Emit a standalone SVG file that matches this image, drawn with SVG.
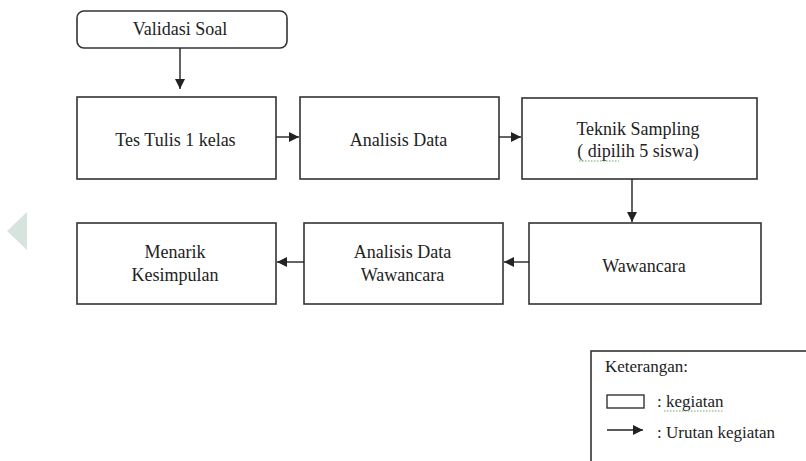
<svg xmlns="http://www.w3.org/2000/svg" width="806" height="461" viewBox="0 0 806 461">
<defs>
<style>
.box{fill:#fff;stroke:#333;stroke-width:1.6}
text{font-family:'Liberation Serif','DejaVu Serif',serif;fill:#222}
.t{font-size:18px;text-anchor:middle}
.lt{font-size:17px}
.c{stroke:#222;stroke-width:1.4;fill:none;marker-end:url(#ah)}
.sq{stroke:#6aa86a;stroke-width:1;fill:none;stroke-dasharray:1.5 1.5}
</style>
<marker id="ah" viewBox="0 0 10 10" refX="10" refY="5" markerWidth="10" markerHeight="10" markerUnits="userSpaceOnUse" orient="auto">
<path d="M0,0 L10,5 L0,10 Z" fill="#222"/>
</marker>
</defs>
<rect width="806" height="461" fill="#fff"/>
<polygon points="7,231 27,212 27,250" fill="#d6e4dd"/>
<g id="validasi"><rect class="box" x="77" y="11" width="210" height="37" rx="7"/><text class="t" x="180" y="35">Validasi Soal</text></g>
<g id="tes"><rect class="box" x="77" y="97" width="199" height="82"/><text class="t" x="175.5" y="146">Tes Tulis 1 kelas</text></g>
<g id="analisis"><rect class="box" x="300" y="97" width="199" height="82"/><text class="t" x="398.5" y="146">Analisis Data</text></g>
<g id="teknik"><rect class="box" x="522" y="98" width="235" height="81"/><text class="t" x="638" y="135">Teknik Sampling</text><text class="t" x="638" y="157">( dipilih 5 siswa)</text><path class="sq" d="M579,161 L619,161"/></g>
<g id="wawancara"><rect class="box" x="529" y="223" width="232" height="81"/><text class="t" x="644" y="272">Wawancara</text></g>
<g id="adw"><rect class="box" x="304" y="223" width="199" height="81"/><text class="t" x="402.5" y="258">Analisis Data</text><text class="t" x="402.5" y="281">Wawancara</text></g>
<g id="menarik"><rect class="box" x="77" y="223" width="199" height="81"/><text class="t" x="175" y="258">Menarik</text><text class="t" x="175" y="281">Kesimpulan</text></g>
<g id="connectors">
<path class="c" d="M180,48 L180,89"/>
<path class="c" d="M276,137 L299,137"/>
<path class="c" d="M499,137 L521,137"/>
<path class="c" d="M632,179 L632,222"/>
<path class="c" d="M529,262 L504,262"/>
<path class="c" d="M304,262 L277,262"/>
</g>
<g id="legend">
<rect x="591" y="351" width="240" height="130" fill="#fff" stroke="#333" stroke-width="1.6"/>
<text class="lt" x="605" y="372">Keterangan:</text>
<rect x="607" y="395" width="37" height="13" fill="#fff" stroke="#333" stroke-width="1.4"/>
<text class="lt" x="657" y="407">: kegiatan</text>
<path class="sq" d="M664,411 L724,411"/>
<path class="c" d="M607,430 L643,430"/>
<text class="lt" x="657" y="438">: Urutan kegiatan</text>
</g>
</svg>
